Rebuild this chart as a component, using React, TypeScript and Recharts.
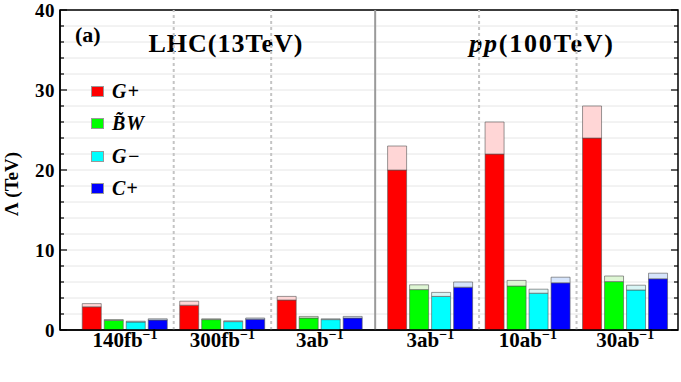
import React from 'react';
import { BarChart, Bar, XAxis, YAxis, CartesianGrid, ReferenceLine, ReferenceArea, Legend, Customized } from 'recharts';

// luminosity labels and where each group sits on the x axis (LHC | pp split)
const groupLabels = ['140fb', '300fb', '3ab', '3ab', '10ab', '30ab'];
const groupPos = [1, 2, 3, 4.133, 5.133, 6.133];

// lower (solid) and upper (pale) reach, TeV
const gPlusLow = [2.9, 3.1, 3.75, 20, 22, 24];
const gPlusHigh = [3.3, 3.6, 4.2, 23, 26, 28];
const bwLow = [1.2, 1.3, 1.5, 5.05, 5.5, 6.05];
const bwHigh = [1.3, 1.4, 1.7, 5.65, 6.2, 6.75];
const gMinusLow = [1.0, 1.05, 1.3, 4.2, 4.6, 5.0];
const gMinusHigh = [1.1, 1.15, 1.4, 4.7, 5.1, 5.6];
const cPlusLow = [1.25, 1.35, 1.5, 5.35, 5.9, 6.4];
const cPlusHigh = [1.4, 1.5, 1.7, 6.0, 6.6, 7.1];

const seriesNames = ['G+', 'B\u0303W', 'G\u2212', 'C+'];
const solidColors = ['#ff0000', '#00ff00', '#00ffff', '#0000ff'];
const paleColors = ['#ffd6d6', '#def6d4', '#d8f5f5', '#d6e4fb'];

const yTicks = [0, 2, 4, 6, 8, 10, 12, 14, 16, 18, 20, 22, 24, 26, 28, 30, 32, 34, 36, 38, 40];
const dashedDividers = [1.5, 2.5, 4.633, 5.633];
const colliderDivider = 3.567;
const xDomain = [0.3333, 6.674];

const lows = [gPlusLow, bwLow, gMinusLow, cPlusLow];
const highs = [gPlusHigh, bwHigh, gMinusHigh, cPlusHigh];

const data = groupPos.map((x, i) => {
  const row: Record<string, number> = { x };
  lows.forEach((low, s) => {
    row['s' + s] = low[i];
    row['e' + s] = +(highs[s][i] - low[i]).toFixed(3);
  });
  return row;
});

const serif = '"Liberation Serif", "DejaVu Serif", serif';

const LeftTick = (props: any) => {
  const { x, y, payload } = props;
  const major = payload.value % 10 === 0;
  return (
    <g>
      <line x1={x} x2={x + (major ? 7 : 4)} y1={y} y2={y} stroke="#000" strokeWidth={1.2} />
      {major && (
        <text x={x - 5} y={y} dy={7} textAnchor="end" fontFamily={serif} fontWeight="bold" fontSize={19} letterSpacing={0.5} fill="#000">
          {payload.value}
        </text>
      )}
    </g>
  );
};

const RightTick = (props: any) => {
  const { x, y, payload } = props;
  const major = payload.value % 10 === 0;
  return <line x1={x} x2={x - (major ? 7 : 4)} y1={y} y2={y} stroke="#000" strokeWidth={1.2} />;
};

const XTick = (props: any) => {
  const { x, y, index } = props;
  return (
    <text x={x} y={y} dy={17} textAnchor="middle" fontFamily={serif} fontWeight="bold" fontSize={21} fill="#000">
      {groupLabels[index]}
      <tspan dy={-8} fontSize={14}>{'\u22121'}</tspan>
    </text>
  );
};

const LegendBox = () => (
  <div style={{ fontFamily: serif, fontWeight: 'bold', fontStyle: 'italic', fontSize: 20, color: '#000', letterSpacing: 1 }}>
    {seriesNames.map((n, i) => (
      <div key={n} style={{ display: 'flex', alignItems: 'center', height: 32.5 }}>
        <span style={{ width: 11, height: 9, background: solidColors[i], border: '1px solid #999', marginRight: 8 }} />
        <span>{n}</span>
      </div>
    ))}
  </div>
);

const Titles = () => (
  <g fontFamily={serif} fontWeight="bold" fill="#000">
    <text x={75} y={42} fontSize={22}>(a)</text>
    <text x={226} y={52} fontSize={26} textAnchor="middle" letterSpacing={1}>LHC(13TeV)</text>
    <text x={542} y={52} fontSize={26} textAnchor="middle" letterSpacing={1.8}>
      <tspan fontStyle="italic">pp</tspan>(100TeV)
    </text>
    <text x={18} y={184} fontSize={19} textAnchor="middle" transform="rotate(-90 18 184)">
      {'\u039B (TeV)'}
    </text>
  </g>
);

export default function App() {
  return (
    <div style={{ position: 'absolute', left: 0, top: 0, background: '#fff' }}>
      <BarChart width={681} height={382} data={data} margin={{ top: 10, right: 0, left: 0, bottom: 12 }} barSize={19} barGap={3}>
        <CartesianGrid vertical={false} stroke="#e6e6e6" />
        <XAxis
          type="number"
          dataKey="x"
          domain={xDomain}
          ticks={groupPos}
          interval={0}
          allowDataOverflow
          height={40}
          tickSize={0}
          tickMargin={0}
          tick={<XTick />}
          axisLine={{ stroke: '#000', strokeWidth: 1.5 }}
        />
        <YAxis
          yAxisId={0}
          domain={[0, 40]}
          ticks={yTicks}
          interval={0}
          width={60}
          tickSize={0}
          tickMargin={0}
          tick={<LeftTick />}
          axisLine={{ stroke: '#000', strokeWidth: 1.5 }}
          allowDataOverflow
        />
        <YAxis
          yAxisId="r"
          orientation="right"
          domain={[0, 40]}
          ticks={yTicks}
          interval={0}
          width={3}
          tickSize={0}
          tickMargin={0}
          tick={<RightTick />}
          axisLine={false}
          allowDataOverflow
        />
        {dashedDividers.map((d) => (
          <ReferenceLine key={d} x={d} stroke="#c4c4c4" strokeWidth={2} strokeDasharray="3 3" />
        ))}
        <ReferenceLine x={colliderDivider} stroke="#9a9a9a" strokeWidth={2} />
        {lows.map((_, s) => [
          <Bar key={'s' + s} dataKey={'s' + s} stackId={'k' + s} fill={solidColors[s]} stroke="#555" strokeOpacity={0.6} strokeWidth={1} isAnimationActive={false} />,
          <Bar key={'e' + s} dataKey={'e' + s} stackId={'k' + s} fill={paleColors[s]} stroke="#555" strokeOpacity={0.6} strokeWidth={1} isAnimationActive={false} />,
        ])}
        <ReferenceArea x1={xDomain[0]} x2={xDomain[1]} y1={0} y2={40} fill="none" stroke="#000" strokeWidth={1.5} ifOverflow="visible" />
        <Legend
          layout="vertical"
          align="center"
          verticalAlign="middle"
          width={80}
          wrapperStyle={{ left: 91, top: 75 }}
          content={<LegendBox />}
        />
        <Customized component={Titles} />
      </BarChart>
    </div>
  );
}
